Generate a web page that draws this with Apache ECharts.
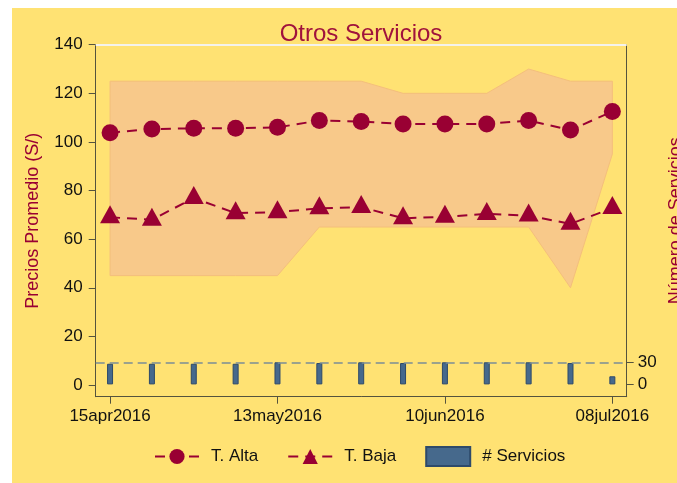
<!DOCTYPE html>
<html>
<head>
<meta charset="utf-8">
<title>Otros Servicios</title>
<script src="https://cdn.jsdelivr.net/npm/echarts@6/dist/echarts.min.js"></script>
<style>
  html, body { margin: 0; padding: 0; background: #fff; }
  #wrap { position: relative; width: 677px; height: 483px; overflow: hidden; }
  #bg { position: absolute; left: 12px; top: 8px; right: 0; bottom: 0; background: #FFE273; }
  #chart { position: absolute; left: 0; top: 0; width: 677px; height: 483px; }
</style>
</head>
<body>
<div id="wrap">
  <div id="bg"></div>
  <div id="chart"></div>
</div>
<script>
// weekly observations
var dates = ['2016-04-15', '2016-04-22', '2016-04-29', '2016-05-06', '2016-05-13', '2016-05-20', '2016-05-27',
  '2016-06-03', '2016-06-10', '2016-06-17', '2016-06-24', '2016-07-01', '2016-07-08'];
var tAlta = [103.8, 105.3, 105.6, 105.6, 106.0, 108.8, 108.4, 107.4, 107.4, 107.4, 108.8, 104.9, 112.5];
var tBaja = [69.0, 68.0, 76.9, 70.7, 71.1, 72.7, 73.2, 68.6, 69.2, 70.4, 69.7, 66.3, 72.8];
var rangoMax = [125, 125, 125, 125, 125, 125, 125, 120, 120, 120, 130, 125, 125];
var rangoMin = [45, 45, 45, 45, 45, 65, 65, 65, 65, 65, 65, 40, 95];
var servicios = [28, 28, 28, 28, 30, 29, 30, 29, 30, 30, 30, 29, 11];

// axis ticks
var xTickDates = ['2016-04-15', '2016-05-13', '2016-06-10', '2016-07-08'];
var xTickLabels = ['15apr2016', '13may2016', '10jun2016', '08jul2016'];
var yLeftTicks = [0, 20, 40, 60, 80, 100, 120, 140];
var yRightTicks = [0, 30];

var DAY = 86400000;
var t0 = Date.parse(dates[0]);
function dayOf(d) { return Math.round((Date.parse(d) - t0) / DAY); }

var xs = dates.map(dayOf);
var xTicks = xTickDates.map(dayOf);
function pairs(arr) { return arr.map(function (v, i) { return [xs[i], v]; }); }

var maroon = '#990033';
var axisColor = '#55533d';
var font = 'Liberation Sans, Arial, sans-serif';

// min/max band drawn as one polygon through the axis scales
function renderBand(params, api) {
  if (params.dataIndex !== 0) return;
  var top = [], bottom = [];
  for (var i = 0; i < xs.length; i++) {
    top.push(api.coord([xs[i], rangoMax[i]]));
    bottom.unshift(api.coord([xs[i], rangoMin[i]]));
  }
  return {
    type: 'polygon',
    shape: { points: top.concat(bottom) },
    style: { fill: '#F8C98A', stroke: '#F4BE7C', lineWidth: 1 }
  };
}

var chart = echarts.init(document.getElementById('chart'));
chart.setOption({
  backgroundColor: 'transparent',
  animation: false,
  textStyle: { fontFamily: font },
  title: {
    text: 'Otros Servicios',
    left: 361,
    textAlign: 'center',
    top: 22,
    padding: 0,
    textStyle: { color: '#A0123C', fontSize: 24, fontWeight: 'normal', fontFamily: font }
  },
  legend: {
    data: ['T. Alta', 'T. Baja', { name: '# Servicios', icon: 'rect' }],
    left: 154,
    top: 446,
    padding: 0,
    itemWidth: 44,
    itemHeight: 19,
    itemGap: 29,
    textStyle: { fontSize: 17, color: '#111', fontFamily: font, padding: [0, 0, 0, 7] }
  },
  grid: { left: 95.7, right: 50.3, top: 44.7, bottom: 86.3, containLabel: false, outerBoundsMode: 'none' },
  xAxis: {
    type: 'value',
    min: -2.4,
    max: 86.4,
    splitLine: { show: false },
    axisLine: { onZero: false, lineStyle: { color: axisColor } },
    axisTick: { length: 7, customValues: xTicks, lineStyle: { color: axisColor } },
    axisLabel: {
      customValues: xTicks,
      margin: 11,
      fontSize: 17,
      color: '#111',
      formatter: function (v) { return xTickLabels[xTicks.indexOf(v)]; }
    }
  },
  yAxis: [
    {
      type: 'value',
      position: 'left',
      min: -4.8,
      max: 140,
      name: 'Precios Promedio (S/)',
      nameLocation: 'middle',
      nameGap: 54,
      nameTextStyle: { color: maroon, fontSize: 18 },
      splitLine: { show: false },
      axisLine: { show: true, onZero: false, lineStyle: { color: axisColor } },
      axisTick: { show: true, length: 7, customValues: yLeftTicks, lineStyle: { color: axisColor } },
      axisLabel: { customValues: yLeftTicks, margin: 13, fontSize: 17, color: '#111' }
    },
    {
      type: 'value',
      position: 'right',
      min: -16.7,
      max: 461,
      name: 'Número de Servicios',
      nameLocation: 'middle',
      nameGap: 39,
      nameRotate: 90,
      nameTextStyle: { color: maroon, fontSize: 18 },
      splitLine: { show: false },
      axisLine: { show: true, onZero: false, lineStyle: { color: axisColor } },
      axisTick: { show: true, length: 7, customValues: yRightTicks, lineStyle: { color: axisColor } },
      axisLabel: { customValues: yRightTicks, margin: 11, fontSize: 17, color: '#111' }
    }
  ],
  series: [
    {
      name: 'rango',
      type: 'custom',
      renderItem: renderBand,
      data: pairs(rangoMax),
      silent: true,
      markLine: {
        silent: true,
        symbol: 'none',
        label: { show: false },
        lineStyle: { color: '#F4F2EC', width: 2, type: 'solid' },
        data: [{ yAxis: 140 }]
      },
      z: 1
    },
    {
      name: '# Servicios',
      type: 'bar',
      yAxisIndex: 1,
      data: pairs(servicios),
      barWidth: 6,
      itemStyle: { color: '#46698C', borderColor: '#2E4A6A', borderWidth: 1 },
      markLine: {
        silent: true,
        symbol: 'none',
        label: { show: false },
        lineStyle: { color: '#7B8D97', width: 1.5, type: [9, 5] },
        data: [{ yAxis: 30 }]
      },
      z: 3
    },
    {
      name: 'T. Alta',
      type: 'line',
      data: pairs(tAlta),
      symbol: 'circle',
      symbolSize: 17,
      itemStyle: { color: maroon },
      lineStyle: { color: maroon, width: 2, type: [10, 7] },
      z: 4
    },
    {
      name: 'T. Baja',
      type: 'line',
      data: pairs(tBaja),
      symbol: 'triangle',
      symbolSize: [20, 18],
      symbolOffset: [0, -3],
      itemStyle: { color: maroon },
      lineStyle: { color: maroon, width: 2, type: [10, 7] },
      z: 4
    }
  ]
});
</script>
</body>
</html>
